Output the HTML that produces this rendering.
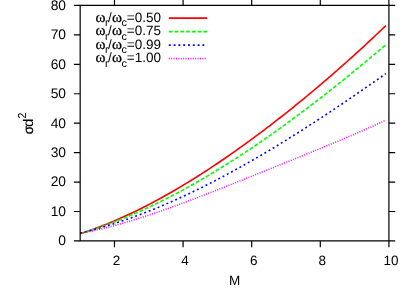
<!DOCTYPE html><html><head><meta charset="utf-8"><style>html,body{margin:0;padding:0;background:#fff}svg{display:block;will-change:transform}text{text-rendering:geometricPrecision;font-family:"Liberation Sans",sans-serif;fill:#000}</style></head><body>
<svg width="415" height="290" viewBox="0 0 415 290">
<path d="M80.17 233.59 L82.37 232.89 L84.57 232.17 L86.77 231.44 L88.97 230.69 L91.17 229.93 L93.37 229.14 L95.57 228.35 L97.76 227.53 L99.96 226.70 L102.16 225.86 L104.36 225.00 L106.56 224.13 L108.76 223.23 L110.96 222.33 L113.16 221.41 L115.36 220.48 L117.56 219.53 L119.76 218.56 L121.96 217.59 L124.16 216.59 L126.36 215.59 L128.56 214.57 L130.76 213.54 L132.95 212.49 L135.15 211.43 L137.35 210.36 L139.55 209.27 L141.75 208.17 L143.95 207.06 L146.15 205.94 L148.35 204.80 L150.55 203.65 L152.75 202.49 L154.95 201.32 L157.15 200.13 L159.35 198.94 L161.55 197.73 L163.75 196.51 L165.95 195.27 L168.14 194.03 L170.34 192.77 L172.54 191.51 L174.74 190.23 L176.94 188.94 L179.14 187.64 L181.34 186.33 L183.54 185.01 L185.74 183.68 L187.94 182.34 L190.14 180.99 L192.34 179.62 L194.54 178.25 L196.74 176.87 L198.94 175.47 L201.13 174.07 L203.33 172.66 L205.53 171.24 L207.73 169.80 L209.93 168.36 L212.13 166.91 L214.33 165.45 L216.53 163.98 L218.73 162.50 L220.93 161.01 L223.13 159.51 L225.33 158.00 L227.53 156.49 L229.73 154.96 L231.93 153.42 L234.13 151.88 L236.32 150.33 L238.52 148.77 L240.72 147.20 L242.92 145.62 L245.12 144.03 L247.32 142.44 L249.52 140.83 L251.72 139.22 L253.92 137.60 L256.12 135.97 L258.32 134.33 L260.52 132.68 L262.72 131.03 L264.92 129.37 L267.12 127.70 L269.32 126.02 L271.51 124.33 L273.71 122.64 L275.91 120.93 L278.11 119.22 L280.31 117.50 L282.51 115.77 L284.71 114.04 L286.91 112.30 L289.11 110.54 L291.31 108.79 L293.51 107.02 L295.71 105.24 L297.91 103.46 L300.11 101.67 L302.31 99.87 L304.50 98.06 L306.70 96.25 L308.90 94.43 L311.10 92.60 L313.30 90.76 L315.50 88.91 L317.70 87.06 L319.90 85.20 L322.10 83.33 L324.30 81.45 L326.50 79.57 L328.70 77.67 L330.90 75.77 L333.10 73.86 L335.30 71.95 L337.50 70.02 L339.69 68.09 L341.89 66.15 L344.09 64.20 L346.29 62.24 L348.49 60.27 L350.69 58.30 L352.89 56.32 L355.09 54.33 L357.29 52.33 L359.49 50.32 L361.69 48.31 L363.89 46.29 L366.09 44.25 L368.29 42.21 L370.49 40.16 L372.69 38.11 L374.88 36.04 L377.08 33.97 L379.28 31.88 L381.48 29.79 L383.68 27.69 L385.88 25.58" fill="none" stroke="#ff0000" stroke-width="1.6"/>
<path d="M80.17 233.80 L82.37 233.13 L84.57 232.45 L86.77 231.76 L88.97 231.05 L91.17 230.33 L93.37 229.60 L95.57 228.85 L97.76 228.09 L99.96 227.33 L102.16 226.54 L104.36 225.75 L106.56 224.94 L108.76 224.13 L110.96 223.30 L113.16 222.46 L115.36 221.60 L117.56 220.74 L119.76 219.86 L121.96 218.97 L124.16 218.07 L126.36 217.16 L128.56 216.24 L130.76 215.30 L132.95 214.36 L135.15 213.40 L137.35 212.43 L139.55 211.45 L141.75 210.46 L143.95 209.46 L146.15 208.44 L148.35 207.42 L150.55 206.38 L152.75 205.34 L154.95 204.28 L157.15 203.21 L159.35 202.14 L161.55 201.05 L163.75 199.95 L165.95 198.84 L168.14 197.72 L170.34 196.59 L172.54 195.45 L174.74 194.29 L176.94 193.13 L179.14 191.96 L181.34 190.78 L183.54 189.59 L185.74 188.39 L187.94 187.17 L190.14 185.95 L192.34 184.72 L194.54 183.48 L196.74 182.23 L198.94 180.97 L201.13 179.70 L203.33 178.42 L205.53 177.13 L207.73 175.83 L209.93 174.52 L212.13 173.20 L214.33 171.88 L216.53 170.54 L218.73 169.20 L220.93 167.84 L223.13 166.48 L225.33 165.11 L227.53 163.73 L229.73 162.34 L231.93 160.94 L234.13 159.53 L236.32 158.12 L238.52 156.69 L240.72 155.26 L242.92 153.82 L245.12 152.37 L247.32 150.91 L249.52 149.44 L251.72 147.97 L253.92 146.49 L256.12 145.00 L258.32 143.50 L260.52 141.99 L262.72 140.47 L264.92 138.95 L267.12 137.42 L269.32 135.88 L271.51 134.33 L273.71 132.78 L275.91 131.22 L278.11 129.65 L280.31 128.07 L282.51 126.49 L284.71 124.90 L286.91 123.30 L289.11 121.69 L291.31 120.08 L293.51 118.46 L295.71 116.83 L297.91 115.19 L300.11 113.55 L302.31 111.90 L304.50 110.25 L306.70 108.59 L308.90 106.92 L311.10 105.24 L313.30 103.56 L315.50 101.87 L317.70 100.17 L319.90 98.47 L322.10 96.76 L324.30 95.05 L326.50 93.33 L328.70 91.60 L330.90 89.87 L333.10 88.13 L335.30 86.38 L337.50 84.63 L339.69 82.87 L341.89 81.11 L344.09 79.34 L346.29 77.56 L348.49 75.78 L350.69 74.00 L352.89 72.20 L355.09 70.41 L357.29 68.60 L359.49 66.79 L361.69 64.98 L363.89 63.16 L366.09 61.34 L368.29 59.51 L370.49 57.67 L372.69 55.83 L374.88 53.99 L377.08 52.14 L379.28 50.28 L381.48 48.42 L383.68 46.56 L385.88 44.69" fill="none" stroke="#00ff00" stroke-width="1.6" stroke-dasharray="3.84 1.92"/>
<path d="M80.17 233.15 L82.37 232.62 L84.57 232.07 L86.77 231.52 L88.97 230.95 L91.17 230.37 L93.37 229.78 L95.57 229.17 L97.76 228.56 L99.96 227.93 L102.16 227.29 L104.36 226.64 L106.56 225.98 L108.76 225.31 L110.96 224.63 L113.16 223.93 L115.36 223.23 L117.56 222.51 L119.76 221.78 L121.96 221.04 L124.16 220.29 L126.36 219.53 L128.56 218.76 L130.76 217.98 L132.95 217.19 L135.15 216.39 L137.35 215.57 L139.55 214.75 L141.75 213.92 L143.95 213.07 L146.15 212.22 L148.35 211.35 L150.55 210.48 L152.75 209.60 L154.95 208.70 L157.15 207.80 L159.35 206.88 L161.55 205.96 L163.75 205.03 L165.95 204.09 L168.14 203.13 L170.34 202.17 L172.54 201.20 L174.74 200.22 L176.94 199.24 L179.14 198.24 L181.34 197.23 L183.54 196.21 L185.74 195.19 L187.94 194.16 L190.14 193.11 L192.34 192.06 L194.54 191.00 L196.74 189.94 L198.94 188.86 L201.13 187.77 L203.33 186.68 L205.53 185.58 L207.73 184.47 L209.93 183.35 L212.13 182.22 L214.33 181.09 L216.53 179.95 L218.73 178.80 L220.93 177.64 L223.13 176.48 L225.33 175.30 L227.53 174.12 L229.73 172.93 L231.93 171.74 L234.13 170.54 L236.32 169.32 L238.52 168.11 L240.72 166.88 L242.92 165.65 L245.12 164.41 L247.32 163.17 L249.52 161.91 L251.72 160.65 L253.92 159.39 L256.12 158.11 L258.32 156.83 L260.52 155.55 L262.72 154.26 L264.92 152.96 L267.12 151.65 L269.32 150.34 L271.51 149.02 L273.71 147.70 L275.91 146.37 L278.11 145.03 L280.31 143.69 L282.51 142.34 L284.71 140.99 L286.91 139.63 L289.11 138.26 L291.31 136.89 L293.51 135.52 L295.71 134.13 L297.91 132.75 L300.11 131.35 L302.31 129.96 L304.50 128.55 L306.70 127.15 L308.90 125.73 L311.10 124.31 L313.30 122.89 L315.50 121.46 L317.70 120.03 L319.90 118.59 L322.10 117.15 L324.30 115.71 L326.50 114.26 L328.70 112.80 L330.90 111.34 L333.10 109.88 L335.30 108.41 L337.50 106.94 L339.69 105.46 L341.89 103.98 L344.09 102.50 L346.29 101.01 L348.49 99.52 L350.69 98.02 L352.89 96.52 L355.09 95.02 L357.29 93.51 L359.49 92.00 L361.69 90.49 L363.89 88.97 L366.09 87.45 L368.29 85.93 L370.49 84.40 L372.69 82.87 L374.88 81.34 L377.08 79.80 L379.28 78.27 L381.48 76.73 L383.68 75.18 L385.88 73.64" fill="none" stroke="#0000ff" stroke-width="1.6" stroke-dasharray="1.92 2.88"/>
<path d="M80.17 233.26 L82.37 232.88 L84.57 232.47 L86.77 232.06 L88.97 231.62 L91.17 231.18 L93.37 230.71 L95.57 230.24 L97.76 229.75 L99.96 229.24 L102.16 228.72 L104.36 228.19 L106.56 227.65 L108.76 227.09 L110.96 226.52 L113.16 225.94 L115.36 225.35 L117.56 224.75 L119.76 224.14 L121.96 223.51 L124.16 222.88 L126.36 222.23 L128.56 221.58 L130.76 220.92 L132.95 220.24 L135.15 219.56 L137.35 218.87 L139.55 218.17 L141.75 217.47 L143.95 216.75 L146.15 216.03 L148.35 215.30 L150.55 214.56 L152.75 213.82 L154.95 213.07 L157.15 212.31 L159.35 211.55 L161.55 210.78 L163.75 210.01 L165.95 209.23 L168.14 208.44 L170.34 207.65 L172.54 206.86 L174.74 206.06 L176.94 205.25 L179.14 204.44 L181.34 203.63 L183.54 202.81 L185.74 201.99 L187.94 201.17 L190.14 200.34 L192.34 199.51 L194.54 198.67 L196.74 197.83 L198.94 196.99 L201.13 196.15 L203.33 195.30 L205.53 194.45 L207.73 193.60 L209.93 192.74 L212.13 191.89 L214.33 191.03 L216.53 190.17 L218.73 189.31 L220.93 188.44 L223.13 187.58 L225.33 186.71 L227.53 185.84 L229.73 184.98 L231.93 184.10 L234.13 183.23 L236.32 182.36 L238.52 181.48 L240.72 180.61 L242.92 179.73 L245.12 178.86 L247.32 177.98 L249.52 177.10 L251.72 176.22 L253.92 175.34 L256.12 174.46 L258.32 173.58 L260.52 172.70 L262.72 171.81 L264.92 170.93 L267.12 170.05 L269.32 169.16 L271.51 168.28 L273.71 167.39 L275.91 166.51 L278.11 165.62 L280.31 164.73 L282.51 163.85 L284.71 162.96 L286.91 162.07 L289.11 161.18 L291.31 160.29 L293.51 159.40 L295.71 158.51 L297.91 157.62 L300.11 156.72 L302.31 155.83 L304.50 154.93 L306.70 154.04 L308.90 153.14 L311.10 152.24 L313.30 151.34 L315.50 150.44 L317.70 149.54 L319.90 148.64 L322.10 147.73 L324.30 146.82 L326.50 145.91 L328.70 145.00 L330.90 144.09 L333.10 143.18 L335.30 142.26 L337.50 141.34 L339.69 140.42 L341.89 139.49 L344.09 138.57 L346.29 137.64 L348.49 136.70 L350.69 135.77 L352.89 134.83 L355.09 133.88 L357.29 132.94 L359.49 131.98 L361.69 131.03 L363.89 130.07 L366.09 129.11 L368.29 128.14 L370.49 127.17 L372.69 126.19 L374.88 125.21 L377.08 124.22 L379.28 123.23 L381.48 122.23 L383.68 121.22 L385.88 120.21" fill="none" stroke="#ff00ff" stroke-width="1.6" stroke-dasharray="0.96 1.44"/>
<path d="M168.8 18.10 H207.2" fill="none" stroke="#ff0000" stroke-width="1.6"/>
<text y="21.90" font-size="13.5"><tspan x="95.4" font-size="15.2" font-family="Liberation Serif" stroke="#000" stroke-width="0.25">ω</tspan><tspan x="104.9" y="26.30" font-size="10.80">r</tspan><tspan x="108.1" y="21.90">/</tspan><tspan x="112.0" font-size="15.2" font-family="Liberation Serif" stroke="#000" stroke-width="0.25">ω</tspan><tspan x="121.4" y="26.30" font-size="10.80">c</tspan><tspan x="126.75" y="21.90">=0.50</tspan></text>
<path d="M168.8 31.60 H207.2" fill="none" stroke="#00ff00" stroke-width="1.6" stroke-dasharray="3.84 1.92"/>
<text y="35.40" font-size="13.5"><tspan x="95.4" font-size="15.2" font-family="Liberation Serif" stroke="#000" stroke-width="0.25">ω</tspan><tspan x="104.9" y="39.80" font-size="10.80">r</tspan><tspan x="108.1" y="35.40">/</tspan><tspan x="112.0" font-size="15.2" font-family="Liberation Serif" stroke="#000" stroke-width="0.25">ω</tspan><tspan x="121.4" y="39.80" font-size="10.80">c</tspan><tspan x="126.75" y="35.40">=0.75</tspan></text>
<path d="M168.8 45.10 H207.2" fill="none" stroke="#0000ff" stroke-width="1.6" stroke-dasharray="1.92 2.88"/>
<text y="48.90" font-size="13.5"><tspan x="95.4" font-size="15.2" font-family="Liberation Serif" stroke="#000" stroke-width="0.25">ω</tspan><tspan x="104.9" y="53.30" font-size="10.80">r</tspan><tspan x="108.1" y="48.90">/</tspan><tspan x="112.0" font-size="15.2" font-family="Liberation Serif" stroke="#000" stroke-width="0.25">ω</tspan><tspan x="121.4" y="53.30" font-size="10.80">c</tspan><tspan x="126.75" y="48.90">=0.99</tspan></text>
<path d="M168.8 58.60 H207.2" fill="none" stroke="#ff00ff" stroke-width="1.6" stroke-dasharray="0.96 1.44"/>
<text y="62.40" font-size="13.5"><tspan x="95.4" font-size="15.2" font-family="Liberation Serif" stroke="#000" stroke-width="0.25">ω</tspan><tspan x="104.9" y="66.80" font-size="10.80">r</tspan><tspan x="108.1" y="62.40">/</tspan><tspan x="112.0" font-size="15.2" font-family="Liberation Serif" stroke="#000" stroke-width="0.25">ω</tspan><tspan x="121.4" y="66.80" font-size="10.80">c</tspan><tspan x="126.75" y="62.40">=1.00</tspan></text>
<g stroke="#000" stroke-width="1.2" fill="none">
<path d="M80.17 5.45 H388.90 V240.95 H80.17 Z"/>
<path d="M73.87 240.95 H80.17 M388.90 240.95 H395.20"/>
<path d="M73.87 211.51 H80.17 M388.90 211.51 H395.20"/>
<path d="M73.87 182.07 H80.17 M388.90 182.07 H395.20"/>
<path d="M73.87 152.64 H80.17 M388.90 152.64 H395.20"/>
<path d="M73.87 123.20 H80.17 M388.90 123.20 H395.20"/>
<path d="M73.87 93.76 H80.17 M388.90 93.76 H395.20"/>
<path d="M73.87 64.32 H80.17 M388.90 64.32 H395.20"/>
<path d="M73.87 34.89 H80.17 M388.90 34.89 H395.20"/>
<path d="M73.87 5.45 H80.17 M388.90 5.45 H395.20"/>
<path d="M114.47 240.95 V247.25 M114.47 5.45 V-0.85"/>
<path d="M183.08 240.95 V247.25 M183.08 5.45 V-0.85"/>
<path d="M251.69 240.95 V247.25 M251.69 5.45 V-0.85"/>
<path d="M320.29 240.95 V247.25 M320.29 5.45 V-0.85"/>
<path d="M388.90 240.95 V247.25 M388.90 5.45 V-0.85"/>
</g>
<text x="66.0" y="245.30" text-anchor="end" font-size="13.8">0</text>
<text x="66.0" y="215.86" text-anchor="end" font-size="13.8">10</text>
<text x="66.0" y="186.42" text-anchor="end" font-size="13.8">20</text>
<text x="66.0" y="156.99" text-anchor="end" font-size="13.8">30</text>
<text x="66.0" y="127.55" text-anchor="end" font-size="13.8">40</text>
<text x="66.0" y="98.11" text-anchor="end" font-size="13.8">50</text>
<text x="66.0" y="68.67" text-anchor="end" font-size="13.8">60</text>
<text x="66.0" y="39.24" text-anchor="end" font-size="13.8">70</text>
<text x="66.0" y="9.80" text-anchor="end" font-size="13.8">80</text>
<text x="116.5" y="265" text-anchor="middle" font-size="13.5">2</text>
<text x="185.1" y="265" text-anchor="middle" font-size="13.5">4</text>
<text x="253.7" y="265" text-anchor="middle" font-size="13.5">6</text>
<text x="322.3" y="265" text-anchor="middle" font-size="13.5">8</text>
<text x="390.9" y="265" text-anchor="middle" font-size="13.5">10</text>
<text x="234.7" y="284.8" text-anchor="middle" font-size="13.5">M</text>
<g transform="translate(33.1 134.2) rotate(-90)">
<text x="0" y="0" font-size="13.6" font-family="Liberation Serif" stroke="#000" stroke-width="0.25">σ</text>
<text transform="translate(7.16 0) scale(1.08 1)" font-size="14">d</text>
<text transform="translate(15.7 -7.2) scale(0.89 1)" font-size="11.7">2</text>
</g>
</svg></body></html>
